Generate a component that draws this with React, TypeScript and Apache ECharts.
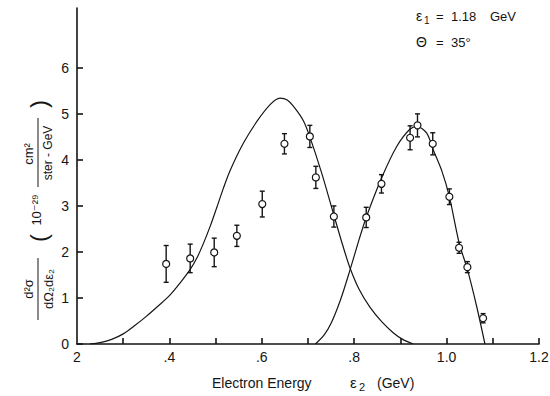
import React, { useEffect, useRef } from "react";
import * as echarts from "echarts";

// Measured cross sections: outgoing electron energy (GeV), d2sigma value, error
const energy = [0.393, 0.445, 0.497, 0.546, 0.601, 0.649, 0.704, 0.717, 0.756, 0.826, 0.859, 0.921, 0.937, 0.970, 1.006, 1.027, 1.045, 1.079];
const sigma = [1.74, 1.86, 1.99, 2.35, 3.04, 4.35, 4.51, 3.62, 2.77, 2.75, 3.48, 4.48, 4.75, 4.35, 3.20, 2.09, 1.67, 0.56];
const sigmaErr = [0.40, 0.31, 0.31, 0.23, 0.28, 0.22, 0.24, 0.24, 0.23, 0.22, 0.20, 0.26, 0.25, 0.24, 0.17, 0.12, 0.12, 0.10];

// Theoretical curve: quasi-elastic peak
const quasiX = [0.228, 0.25, 0.275, 0.30, 0.325, 0.35, 0.375, 0.40, 0.425, 0.445, 0.46, 0.473, 0.488, 0.502, 0.516, 0.531, 0.560, 0.589, 0.618, 0.639, 0.655, 0.672, 0.69, 0.704, 0.73, 0.756, 0.775, 0.791, 0.81, 0.834, 0.86, 0.885, 0.905, 0.928];
const quasiY = [0, 0.03, 0.1, 0.22, 0.4, 0.6, 0.82, 1.05, 1.35, 1.62, 1.88, 2.17, 2.55, 2.95, 3.36, 3.76, 4.36, 4.83, 5.2, 5.34, 5.3, 5.12, 4.85, 4.5, 3.7, 2.8, 2.15, 1.65, 1.2, 0.8, 0.48, 0.24, 0.1, 0];

// Theoretical curve: elastic peak
const elasticX = [0.716, 0.735, 0.75, 0.77, 0.791, 0.81, 0.826, 0.859, 0.892, 0.921, 0.937, 0.957, 0.971, 0.99, 1.006, 1.027, 1.045, 1.065, 1.083];
const elasticY = [0, 0.2, 0.45, 0.95, 1.61, 2.25, 2.75, 3.6, 4.29, 4.67, 4.72, 4.58, 4.22, 3.75, 3.2, 2.2, 1.62, 0.82, 0];

// Axis ticks and labels
const xLabelValues = [0.2, 0.4, 0.6, 0.8, 1.0, 1.2];
const xLabelTexts = ["2", ".4", ".6", ".8", "1.0", "1.2"];
const xTickValues = [0.3, 0.4, 0.5, 0.6, 0.7, 0.8, 0.9, 1.0, 1.1, 1.2];
const yTickValues = [0, 1, 2, 3, 4, 5, 6];

const INK = "#151515";
const FONT = "'Liberation Sans', 'DejaVu Sans', sans-serif";

export default function App() {
  const ref = useRef<HTMLDivElement>(null);

  useEffect(() => {
    if (!ref.current) return;
    const chart = echarts.init(ref.current, null, { renderer: "svg" });

    const points = energy.map((x, i) => [x, sigma[i], sigmaErr[i]]);

    const txt = (text: string, x: number, y: number, size: number, extra: any = {}) => ({
      type: "text",
      x,
      y,
      style: {
        text,
        fill: INK,
        font: `${size}px ${FONT}`,
        textAlign: "center",
        textVerticalAlign: "middle",
        ...extra,
      },
    });
    const rule = (x1: number, y1: number, x2: number, y2: number) => ({
      type: "line",
      shape: { x1, y1, x2, y2 },
      style: { stroke: INK, lineWidth: 1 },
    });

    // Vertical axis title, laid out along the reading direction (u) and rotated
    const yTitle = {
      type: "group",
      x: 38,
      y: 320,
      rotation: Math.PI / 2,
      children: [
        txt("d²σ", 31, -10, 13),
        rule(0, 0, 62, 0),
        txt("dΩ₂dε₂", 31, 10, 13),
        txt("(", 82, 0, 24),
        txt("10⁻²⁹", 110, -2, 13),
        txt("cm²", 166, -10, 13),
        rule(133, 0, 202, 0),
        txt("ster - GeV", 167, 10, 12),
        txt(")", 216, 0, 24),
      ],
    };

    // Horizontal axis title
    const xTitle = {
      type: "group",
      children: [
        txt("Electron Energy", 212, 383, 14, { textAlign: "left" }),
        txt("ε", 350, 382, 15, { textAlign: "left" }),
        txt("2", 359, 387, 11, { textAlign: "left" }),
        txt("(GeV)", 377, 383, 14, { textAlign: "left" }),
      ],
    };

    // Beam energy and scattering angle
    const notes = {
      type: "group",
      children: [
        txt("ε", 416, 16, 14, { textAlign: "left" }),
        txt("1", 424, 20, 10, { textAlign: "left" }),
        txt("=", 436, 16, 13, { textAlign: "left" }),
        txt("1.18", 451, 16, 13, { textAlign: "left" }),
        txt("GeV", 490, 16, 13, { textAlign: "left" }),
        txt("Θ", 416, 42, 14, { textAlign: "left" }),
        txt("=", 436, 42, 13, { textAlign: "left" }),
        txt("35°", 451, 42, 13, { textAlign: "left" }),
      ],
    };

    const option: any = {
      animation: false,
      backgroundColor: "#ffffff",
      grid: {
        left: 77,
        right: 11,
        top: 8,
        bottom: 52,
        containLabel: false,
        outerBoundsMode: "none",
      },
      xAxis: {
        type: "value",
        min: 0.2,
        max: 1.2,
        interval: 0.1,
        axisLine: { onZero: false, lineStyle: { color: INK, width: 1.6 } },
        axisTick: { inside: true, length: 6, customValues: xTickValues, lineStyle: { color: INK, width: 1.6 } },
        axisLabel: {
          customValues: xLabelValues,
          margin: 6,
          color: INK,
          fontSize: 14,
          fontFamily: FONT,
          formatter: (v: number) => {
            let best = 0;
            xLabelValues.forEach((lv, i) => {
              if (Math.abs(lv - v) < Math.abs(xLabelValues[best] - v)) best = i;
            });
            return xLabelTexts[best];
          },
        },
        splitLine: { show: false },
      },
      yAxis: {
        type: "value",
        min: 0,
        max: 7.3,
        axisLine: { show: true, lineStyle: { color: INK, width: 1.6 } },
        axisTick: { show: true, inside: true, length: 6, customValues: yTickValues, lineStyle: { color: INK, width: 1.6 } },
        axisLabel: { customValues: yTickValues, margin: 8, color: INK, fontSize: 14, fontFamily: FONT },
        splitLine: { show: false },
      },
      graphic: [yTitle, xTitle, notes],
      series: [
        {
          type: "line",
          data: quasiX.map((x, i) => [x, quasiY[i]]),
          smooth: 0.3,
          showSymbol: false,
          lineStyle: { color: INK, width: 1.2 },
          z: 2,
        },
        {
          type: "line",
          data: elasticX.map((x, i) => [x, elasticY[i]]),
          smooth: 0.3,
          showSymbol: false,
          lineStyle: { color: INK, width: 1.2 },
          z: 2,
        },
        {
          type: "custom",
          data: points,
          z: 3,
          renderItem: (_params: any, api: any) => {
            const x = api.value(0);
            const y = api.value(1);
            const e = api.value(2);
            const top = api.coord([x, y + e]);
            const bot = api.coord([x, y - e]);
            const cap = 2.5;
            const style = { stroke: INK, lineWidth: 1.4 };
            return {
              type: "group",
              children: [
                { type: "line", shape: { x1: top[0], y1: top[1], x2: bot[0], y2: bot[1] }, style },
                { type: "line", shape: { x1: top[0] - cap, y1: top[1], x2: top[0] + cap, y2: top[1] }, style },
                { type: "line", shape: { x1: bot[0] - cap, y1: bot[1], x2: bot[0] + cap, y2: bot[1] }, style },
              ],
            };
          },
        },
        {
          type: "scatter",
          data: points.map((p) => [p[0], p[1]]),
          symbol: "circle",
          symbolSize: 7,
          itemStyle: { color: "#ffffff", borderColor: INK, borderWidth: 1.2, opacity: 1 },
          z: 4,
        },
      ],
    };

    chart.setOption(option);
    return () => chart.dispose();
  }, []);

  return <div ref={ref} style={{ position: "fixed", left: 0, top: 0, width: 550, height: 396 }} />;
}
